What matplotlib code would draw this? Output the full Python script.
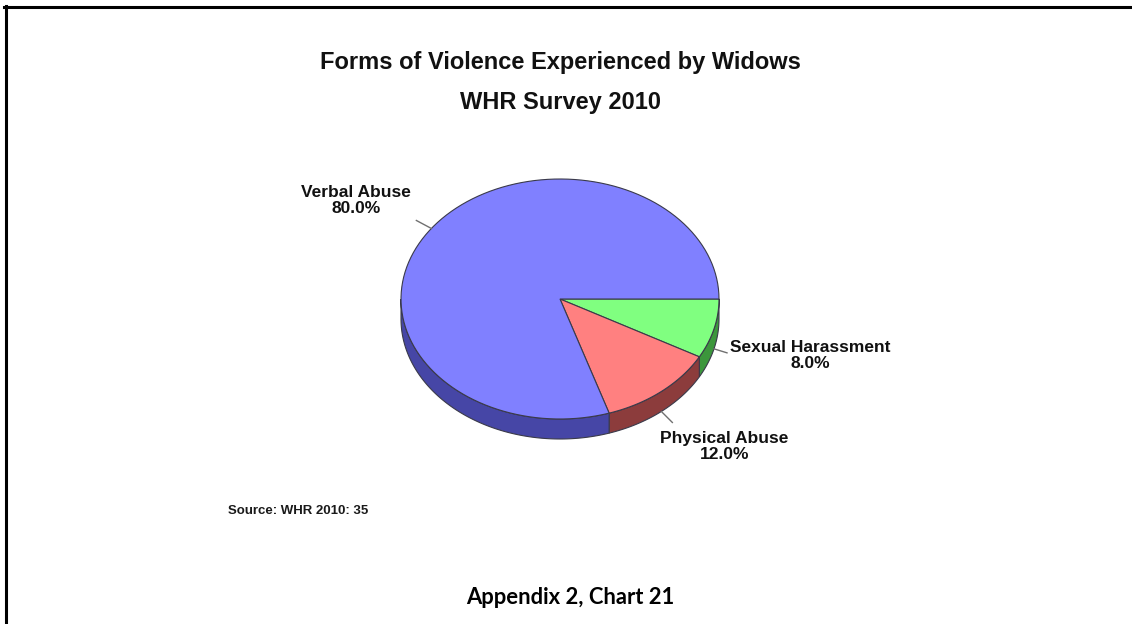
import numpy as np
import matplotlib.pyplot as plt
from matplotlib.patches import Polygon
from matplotlib.lines import Line2D

# data, listed clockwise starting at 3 o'clock
categories = ["Sexual Harassment", "Physical Abuse", "Verbal Abuse"]
shares = [8.0, 12.0, 80.0]
top_colors = ["#80ff80", "#ff8080", "#8080ff"]
side_colors = ["#3c963c", "#8c3c3c", "#4646a6"]
# label placement relative to the slice anchor (pixels)
leader_offsets = [(13, 4), (11, 11), (-15, -8)]
text_offsets = [(96, 7), (63, 35), (-75, -28)]

W, H = 1132, 624
fig = plt.figure(figsize=(W / 100, H / 100), dpi=100)
ax = fig.add_axes([0, 0, 1, 1])
ax.set_xlim(0, W)
ax.set_ylim(H, 0)
ax.axis("off")

cx, cy = 560, 299
rx, ry = 159, 120
depth = 20
edge = "#3a3a4a"


def arc(t0, t1, n=120):
    t = np.radians(np.linspace(t0, t1, n))
    return cx + rx * np.cos(t), cy + ry * np.sin(t)


bounds = np.concatenate([[0], np.cumsum(shares)]) / 100 * 360

# side wall (front half only: 0..180 deg, screen y goes down)
for i in range(len(shares)):
    a0, a1 = max(bounds[i], 0), min(bounds[i + 1], 180)
    if a1 <= a0:
        continue
    x, y = arc(a0, a1)
    pts = np.column_stack([np.r_[x, x[::-1]], np.r_[y, y[::-1] + depth]])
    ax.add_patch(Polygon(pts, closed=True, facecolor=side_colors[i],
                         edgecolor=edge, linewidth=0.8))

# top face
for i in range(len(shares)):
    x, y = arc(bounds[i], bounds[i + 1])
    pts = np.column_stack([np.r_[cx, x], np.r_[cy, y]])
    ax.add_patch(Polygon(pts, closed=True, facecolor=top_colors[i],
                         edgecolor=edge, linewidth=0.8))

# labels with short leader lines
for i, name in enumerate(categories):
    mid = np.radians((bounds[i] + bounds[i + 1]) / 2)
    axp = cx + rx * np.cos(mid)
    ayp = cy + ry * np.sin(mid) + (depth if np.sin(mid) > 0 else 0)
    lx, ly = leader_offsets[i]
    ax.add_line(Line2D([axp, axp + lx], [ayp, ayp + ly], color="#707070", lw=1.0))
    tx, ty = text_offsets[i]
    ax.text(axp + tx, ayp + ty, f"{name}\n{shares[i]:.1f}%", ha="center", va="center",
            fontsize=12.5, fontweight="bold", family="Liberation Sans",
            linespacing=1.1, color="#111111")

# titles
ax.text(cx, 62, "Forms of Violence Experienced by Widows", ha="center", va="center",
        fontsize=17, fontweight="bold", family="Liberation Sans", color="#111111")
ax.text(cx, 102, "WHR Survey 2010", ha="center", va="center",
        fontsize=17, fontweight="bold", family="Liberation Sans", color="#111111")

ax.text(228, 511, "Source: WHR 2010: 35", ha="left", va="center",
        fontsize=9.5, fontweight="bold", family="Liberation Sans", color="#1a1a1a")

ax.text(cx + 10, 597, "Appendix 2, Chart 21", ha="center", va="center",
        fontsize=15.8, fontweight="bold", family="Lato", color="black")

# page frame (top and left edges)
ax.add_line(Line2D([4, W], [6.5, 6.5], color="black", lw=2.2))
ax.add_line(Line2D([5.5, 5.5], [5.5, H], color="black", lw=2.2))

fig.savefig("out.png", dpi=100)
